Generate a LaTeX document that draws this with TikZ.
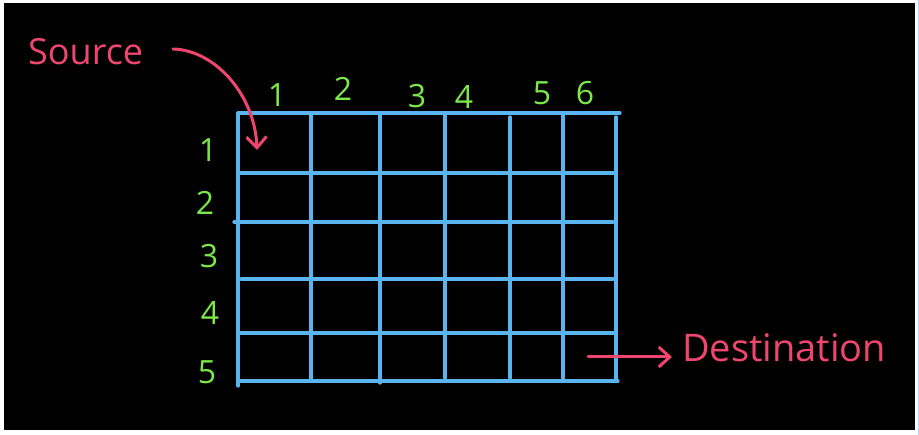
\documentclass[tikz,border=0pt]{standalone}
\usepackage{fontspec}
\setmainfont{Open Sans}
\usetikzlibrary{arrows.meta}
\definecolor{gridblue}{HTML}{5AB4F0}
\definecolor{numgreen}{HTML}{7CE84A}
\definecolor{inkpink}{HTML}{F0466E}
\definecolor{edgeblue}{HTML}{B8D4F8}
\tikzset{
  gridline/.style={draw=gridblue, line width=3.2pt, line cap=round},
  num/.style={text=numgreen, font=\fontsize{32}{32}\selectfont, inner sep=0pt},
  word/.style={text=inkpink, inner sep=0pt},
  inkarrow/.style={draw=inkpink, line width=3pt, line cap=round,
    -{Straight Barb[length=11pt, width=20pt, line width=3pt]}}
}
\begin{document}
\begin{tikzpicture}[x=1pt,y=-1pt]
\useasboundingbox (0,0) rectangle (919,435);
\fill[white] (0,0) rectangle (919,435);
\fill[black] (4,3) rectangle (915,430);
\draw[edgeblue, line width=1pt] (918,0) -- (918,435);
% grid horizontals
\draw[gridline] (238,113) -- (620,113);
\draw[gridline] (238,173) -- (616,173);
\draw[gridline] (234,222) -- (613,222);
\draw[gridline] (241,279) -- (613,279);
\draw[gridline] (240,333) -- (616,333);
\draw[gridline] (238,381) -- (618,381);
% grid verticals
\draw[gridline] (238,113) -- (238,386);
\draw[gridline] (311,113) -- (311,381);
\draw[gridline] (380,113) -- (380,383);
\draw[gridline] (445,113) -- (445,378);
\draw[gridline] (510,117) -- (510,378);
\draw[gridline] (563,113) -- (563,381);
\draw[gridline] (616,117) -- (616,381);
% column labels
\node[num] (c1) at (277,95) {1};
\node[num] (c2) at (343,89) {2};
\node[num] (c3) at (417,96) {3};
\node[num] (c4) at (464,97) {4};
\node[num] (c5) at (542,93) {5};
\node[num] (c6) at (585,93) {6};
% row labels
\node[num] (r1) at (208,150) {1};
\node[num] (r2) at (205,203) {2};
\node[num] (r3) at (209,256) {3};
\node[num] (r4) at (210,313) {4};
\node[num] (r5) at (207,372) {5};
% source
\node[word, font=\fontsize{36}{36}\selectfont, anchor=west] (src) at (28,52) {Source};
\coordinate (srcstart) at (173,49);
\coordinate (srctip) at (257,150);
\draw[inkarrow] (srcstart) .. controls (215,50) and (255,95) .. (srctip);
% destination
\node[word, font=\fontsize{38}{38}\selectfont, anchor=west] (dst) at (682,348) {Destination};
\coordinate (dststart) at (588,357);
\coordinate (dstend) at (672,357);
\draw[inkarrow] (dststart) -- (dstend);
\end{tikzpicture}
\end{document}
